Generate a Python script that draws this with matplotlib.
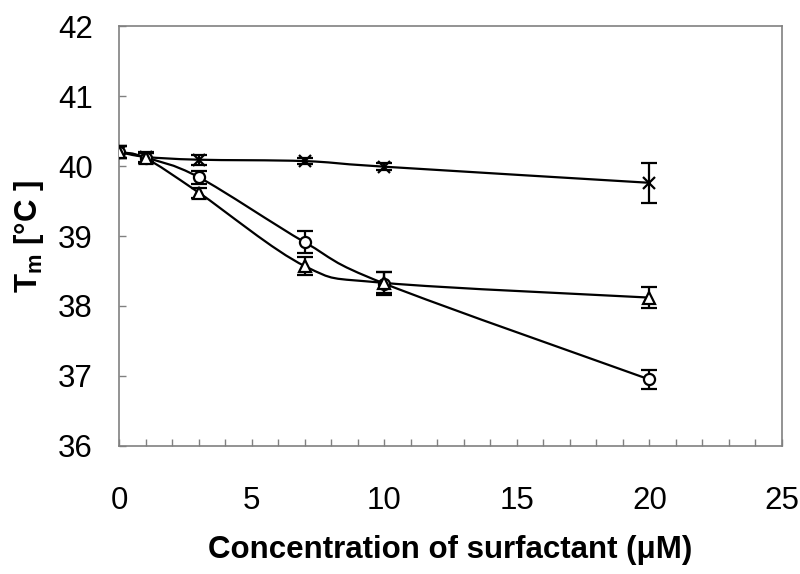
import numpy as np
import matplotlib
matplotlib.use('Agg')
import matplotlib.pyplot as plt
from matplotlib.path import Path
from matplotlib.patches import PathPatch
from matplotlib.ticker import MultipleLocator

plt.rcParams['font.family'] = ['Liberation Sans', 'DejaVu Sans']
plt.rcParams['mathtext.fontset'] = 'custom'
plt.rcParams['mathtext.rm'] = 'Liberation Sans'
plt.rcParams['mathtext.bf'] = 'Liberation Sans:bold'

# surfactant concentration (uM)
conc = [0, 1, 3, 7, 10, 20]

# Tm values for the three series
tm_cross = [40.20, 40.13, 40.09, 40.07, 39.99, 39.76]
tm_circle = [40.20, 40.12, 39.84, 38.91, 38.32, 36.95]
tm_triangle = [40.20, 40.11, 39.62, 38.57, 38.33, 38.12]

# error bars
err_cross = [0.08, 0.07, 0.07, 0.04, 0.05, 0.29]
err_circle = [0.08, 0.07, 0.09, 0.16, 0.16, 0.14]
err_triangle = [0.08, 0.07, 0.07, 0.13, 0.15, 0.15]


def smooth_path(xs, ys):
    # Excel-like smoothed line: cubic bezier segments (Catmull-Rom control points)
    pts = np.column_stack([xs, ys]).astype(float)
    n = len(pts)
    verts = [pts[0]]
    codes = [Path.MOVETO]
    for i in range(n - 1):
        p0 = pts[i - 1] if i > 0 else pts[i]
        p1 = pts[i]
        p2 = pts[i + 1]
        p3 = pts[i + 2] if i + 2 < n else pts[i + 1]
        c1 = p1 + (p2 - p0) / 6.0
        c2 = p2 - (p3 - p1) / 6.0
        verts += [c1, c2, p2]
        codes += [Path.CURVE4] * 3
    return Path(verts, codes)


fig = plt.figure(figsize=(8, 5.74), dpi=100)
ax = fig.add_axes([0.149, 0.223, 0.8285, 0.7317])

series = [
    (tm_cross, err_cross, 'x', 'black', 9),
    (tm_circle, err_circle, 'o', 'white', 8),
    (tm_triangle, err_triangle, '^', 'white', 9),
]

for tm, err, mk, fc, ms in series:
    ax.add_patch(PathPatch(smooth_path(conc, tm), fill=False, ec='black', lw=1.6, zorder=2))

for tm, err, mk, fc, ms in series:
    ax.errorbar(conc, tm, yerr=err, fmt=mk, color='black', mfc=fc, mec='black',
                ms=ms, mew=1.6, elinewidth=1.6, capsize=5.5, capthick=2, zorder=3)

ax.set_xlim(0, 25)
ax.set_ylim(36, 42)
ax.xaxis.set_major_locator(MultipleLocator(5))
ax.xaxis.set_minor_locator(MultipleLocator(1))
ax.yaxis.set_major_locator(MultipleLocator(1))

for s in ax.spines.values():
    s.set_color('#808080')
    s.set_linewidth(1.2)

ax.tick_params(axis='both', which='both', direction='in', color='#808080', width=1, labelsize=22.5)
ax.tick_params(axis='x', which='both', length=5, pad=29)
ax.tick_params(axis='y', which='major', length=5, pad=19)

ax.set_xlabel('Concentration of surfactant (\u03bcM)', fontsize=22.5, fontweight='bold')
ax.set_ylabel('$\\mathbf{T}_{\\mathbf{m}}$ [\u00b0C ]', fontsize=22.5, fontweight='bold')
ax.xaxis.set_label_coords(0.5, -0.212)
ax.yaxis.set_label_coords(-0.11, 0.5)

fig.savefig('out.png', dpi=100)
